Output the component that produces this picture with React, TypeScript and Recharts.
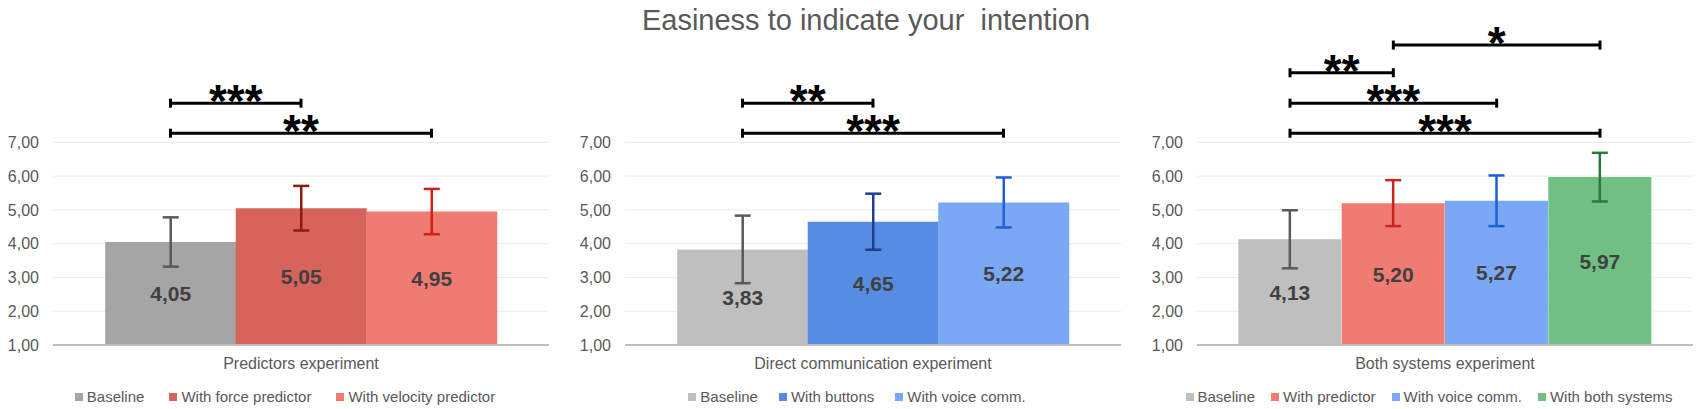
import { BarChart, Bar, XAxis, YAxis, CartesianGrid, ErrorBar, LabelList, Cell, ReferenceLine } from 'recharts';

const FONT = '"Liberation Sans", Arial, sans-serif';
const TEXT = '#595959';

const TITLE = 'Easiness to indicate your  intention';
const Y_TICKS = [1, 2, 3, 4, 5, 6, 7];

// Predictors experiment
const PRED_NAMES = ['Baseline', 'With force predictor', 'With velocity predictor'];
const PRED_MEANS = [4.05, 5.05, 4.95];
const PRED_ERRORS = [0.73, 0.66, 0.67];
const PRED_SIG = [
  { from: 0, to: 1, level: 8.16, stars: '***' },
  { from: 0, to: 2, level: 7.27, stars: '**' },
];

// Direct communication experiment
const DIRECT_NAMES = ['Baseline', 'With buttons', 'With voice comm.'];
const DIRECT_MEANS = [3.83, 4.65, 5.22];
const DIRECT_ERRORS = [1.0, 0.83, 0.74];
const DIRECT_SIG = [
  { from: 0, to: 1, level: 8.16, stars: '**' },
  { from: 0, to: 2, level: 7.27, stars: '***' },
];

// Both systems experiment
const BOTH_NAMES = ['Baseline', 'With predictor', 'With voice comm.', 'With both systems'];
const BOTH_MEANS = [4.13, 5.2, 5.27, 5.97];
const BOTH_ERRORS = [0.86, 0.68, 0.75, 0.72];
const BOTH_SIG = [
  { from: 1, to: 3, level: 9.88, stars: '*' },
  { from: 0, to: 1, level: 9.06, stars: '**' },
  { from: 0, to: 2, level: 8.16, stars: '***' },
  { from: 0, to: 3, level: 7.27, stars: '***' },
];

const fmt = (v: number) => v.toFixed(2).replace('.', ',');

function Bracket(props: any) {
  const { x1, y1, x2, stars } = props;
  return (
    <g>
      <line x1={x1} y1={y1} x2={x2} y2={y1} stroke="#000" strokeWidth={3} />
      <line x1={x1} y1={y1 - 4.5} x2={x1} y2={y1 + 4.5} stroke="#000" strokeWidth={3} />
      <line x1={x2} y1={y1 - 4.5} x2={x2} y2={y1 + 4.5} stroke="#000" strokeWidth={3} />
      <text x={(x1 + x2) / 2} y={y1 + 14} textAnchor="middle" fontSize={46} fontWeight="bold" fontFamily={FONT} fill="#000">
        {stars}
      </text>
    </g>
  );
}

interface PanelProps {
  category: string;
  names: string[];
  means: number[];
  errors: number[];
  fills: string[];
  errColors: string[];
  sig: { from: number; to: number; level: number; stars: string }[];
  left: number;
  width: number;
  marginRight: number;
  legendGap: number;
}

function Panel({ category, names, means, errors, fills, errColors, sig, left, width, marginRight, legendGap }: PanelProps) {
  const rows = names.map((name, i) => {
    const row: any = { name, value: means[i] };
    row['err' + i] = errors[i];
    return row;
  });
  // Excel-like 80% gap width: outer gaps are 0.4 bar widths each
  const plotWidth = width - 53 - marginRight;
  const bw = plotWidth / (names.length + 0.8);
  const pad = 0.4 * bw;

  return (
    <>
      <div style={{ position: 'absolute', left, top: 0 }}>
        <BarChart
          width={width}
          height={375}
          data={rows}
          margin={{ top: 41, right: marginRight, bottom: 0, left: 0 }}
          barCategoryGap={0}
        >
          <CartesianGrid vertical={false} stroke="#ebebeb" horizontalValues={Y_TICKS} />
          <XAxis
            dataKey="name"
            tick={false}
            tickLine={false}
            height={30}
            axisLine={{ stroke: '#bfbfbf', strokeWidth: 2 }}
            padding={{ left: pad, right: pad }}
            label={{ value: category, position: 'insideBottom', offset: 6, fill: TEXT, fontSize: 16, fontFamily: FONT }}
          />
          <YAxis
            domain={[1, 10]}
            ticks={Y_TICKS}
            width={53}
            axisLine={false}
            tickLine={false}
            tickSize={0}
            tickMargin={14}
            tick={{ fill: TEXT, fontSize: 16, fontFamily: FONT }}
            tickFormatter={fmt}
          />
          <Bar dataKey="value" isAnimationActive={false}>
            {rows.map((_, i) => (
              <Cell key={i} fill={fills[i]} />
            ))}
            {rows.map((_, i) => (
              <ErrorBar
                key={'e' + i}
                dataKey={'err' + i}
                direction="y"
                width={8}
                stroke={errColors[i]}
                strokeWidth={2.5}
                isAnimationActive={false}
              />
            ))}
            <LabelList
              dataKey="value"
              position="center"
              formatter={fmt}
              fill="#404040"
              fontSize={21}
              fontWeight="bold"
              fontFamily={FONT}
            />
          </Bar>
          {sig.map((s, i) => (
            <ReferenceLine
              key={'s' + i}
              segment={[
                { x: names[s.from], y: s.level },
                { x: names[s.to], y: s.level },
              ]}
              shape={(p: any) => <Bracket {...p} stars={s.stars} />}
            />
          ))}
        </BarChart>
      </div>

      {/* Legend */}
      <div
        style={{
          position: 'absolute',
          left,
          top: 388,
          width: 570,
          display: 'flex',
          justifyContent: 'center',
          gap: legendGap,
          fontFamily: FONT,
          fontSize: 15,
          lineHeight: '17px',
          color: TEXT,
          whiteSpace: 'nowrap',
        }}
      >
        {names.map((n, i) => (
          <div key={n} style={{ display: 'flex', alignItems: 'center', gap: 4 }}>
            <div style={{ width: 8, height: 8, background: fills[i] }} />
            <span>{n}</span>
          </div>
        ))}
      </div>
    </>
  );
}

export default function App() {
  return (
    <div
      style={{
        position: 'absolute',
        left: 0,
        top: 0,
        width: 1708,
        height: 409,
        background: '#fff',
        overflow: 'hidden',
      }}
    >
      <div
        style={{
          position: 'absolute',
          top: 4,
          left: 0,
          width: 1708,
          paddingLeft: 24,
          boxSizing: 'border-box',
          textAlign: 'center',
          fontFamily: FONT,
          fontSize: 29,
          lineHeight: '33px',
          color: TEXT,
          whiteSpace: 'pre',
        }}
      >
        {TITLE}
      </div>

      <Panel
        category="Predictors experiment"
        names={PRED_NAMES}
        means={PRED_MEANS}
        errors={PRED_ERRORS}
        fills={['#a5a5a5', '#d6645a', '#f07b72']}
        errColors={['#595959', '#8b1a10', '#d0201a']}
        sig={PRED_SIG}
        left={0}
        width={570}
        marginRight={21}
        legendGap={25}
      />
      <Panel
        category="Direct communication experiment"
        names={DIRECT_NAMES}
        means={DIRECT_MEANS}
        errors={DIRECT_ERRORS}
        fills={['#bfbfbf', '#568de2', '#7aa8f5']}
        errColors={['#595959', '#1f3f8f', '#1f5fd8']}
        sig={DIRECT_SIG}
        left={572}
        width={570}
        marginRight={21}
        legendGap={21}
      />
      <Panel
        category="Both systems experiment"
        names={BOTH_NAMES}
        means={BOTH_MEANS}
        errors={BOTH_ERRORS}
        fills={['#bfbfbf', '#f07b72', '#7aa8f5', '#70c084']}
        errColors={['#595959', '#c8261e', '#1a5fd8', '#2a7a3a']}
        sig={BOTH_SIG}
        left={1144}
        width={564}
        marginRight={15}
        legendGap={16}
      />
    </div>
  );
}
